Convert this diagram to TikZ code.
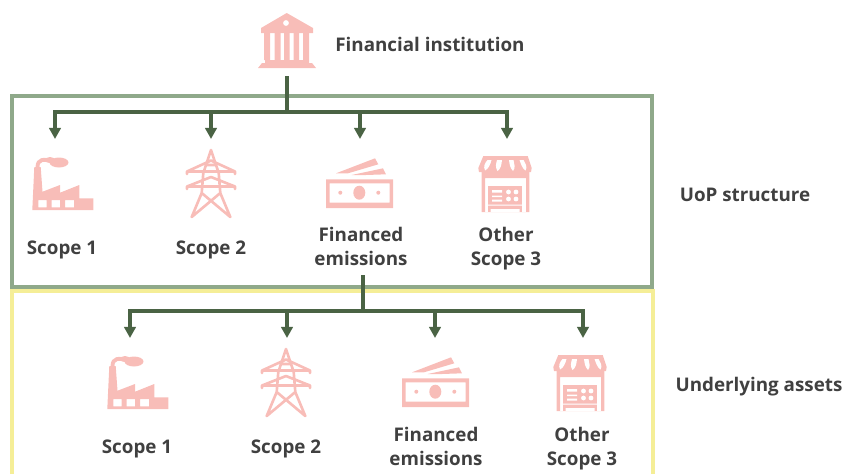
\documentclass[tikz,border=0pt]{standalone}
\usepackage{fontspec}
\setmainfont{Open Sans}
\usetikzlibrary{arrows.meta}
\definecolor{iconpink}{HTML}{F8BDB8}
\definecolor{flowgreen}{HTML}{4A6344}
\definecolor{uopgreen}{HTML}{8FA98A}
\definecolor{assetyellow}{HTML}{F5EE97}
\definecolor{labelgray}{HTML}{404040}
\tikzset{
  flow/.style={draw=flowgreen,line width=1.8pt,-{Triangle[width=6.6pt,length=6.4pt]}},
  trunk/.style={draw=flowgreen,line width=1.8pt},
  lab/.style={text=labelgray,font=\fontsize{10.7pt}{13.6pt}\selectfont\bfseries,align=center,inner sep=0pt},
  bank/.pic={
    \fill[iconpink,even odd rule] (3,15)--(28.7,0)--(55,15)--(55,20)--(3,20)--cycle (28,10) circle (3);
    \fill[iconpink] (6,20) rectangle (12,47) (16.5,20) rectangle (22.5,47) (26,20) rectangle (31.5,47) (35.5,20) rectangle (41,47) (45,20) rectangle (51,47);
    \fill[iconpink] (7,47) rectangle (51,50) (4,50)--(54,50)--(58,55)--(0,55)--cycle;
  },
  factory/.pic={
    \fill[iconpink,even odd rule] (2.3,10)--(8.7,10)--(10.5,34.7)--(28,28)--(28,35.7)--(47.3,28)--(47.3,41.3)--(61.3,41.3)--(61.3,53)--(0.3,53)--cycle
      (6.3,43) rectangle (14.7,50.3) (19.7,43) rectangle (28,50.3) (33,43) rectangle (42,50.3);
    \draw[iconpink,line width=2.2pt] (5.5,10) .. controls (5.5,2) and (12,1.5) .. (20,4.5);
    \fill[iconpink] (27,5.5) ellipse (9.5 and 5);
    \fill[iconpink] (18,3) ellipse (5 and 3);
  },
  tower/.pic={
    \draw[iconpink,line width=1.5pt,line join=round,line cap=round]
      (25,0)--(17.3,23)--(15.7,43)--(5.7,67) (25,0)--(32.7,23)--(34.3,43)--(44.3,67)
      (1,24)--(1,21.5)--(25,10.5)--(49,21.5)--(49,24) (1,21.5)--(49,21.5)
      (1,39)--(1,36.5)--(25,27)--(49,36.5)--(49,39) (1,36.5)--(49,36.5)
      (20,15)--(30,15) (15.7,43)--(44.3,67) (34.3,43)--(5.7,67);
  },
  money/.pic={
    \fill[iconpink,even odd rule] (0,21.3) rectangle (67,50) (3.5,25.3) rectangle (63.5,44.5);
    \fill[iconpink] (33.3,34.7) ellipse (6 and 7) (14.3,34.7) circle (2) (52.3,34.7) circle (2);
    \fill[iconpink] (10,15.3)--(49,0.3)--(52.3,6.3)--(22,15.3)--cycle (25.7,17)--(57,10.3)--(60,16.3)--(40,17)--cycle;
  },
  shop/.pic={
    \fill[iconpink,even odd rule] (3.7,15) rectangle (51.3,56) (7,22) rectangle (48,56);
    \fill[iconpink] (5.3,0)--(49.7,0)--(53.7,12)--(53,16)--(1,16)--(0.3,12)--cycle;
    \fill[white] (9.5,4) .. controls (7,7) and (5,10) .. (7,14.5) .. controls (10.5,13) and (12.5,8) .. (13.5,4)--cycle
      (19,4) .. controls (18,8) and (17,11) .. (19.5,15) .. controls (23,13) and (23.5,8) .. (24,4)--cycle
      (31,4) .. controls (31.5,8) and (32,12) .. (35,15) .. controls (38,12) and (36,8) .. (35.5,4)--cycle
      (41.5,4) .. controls (43,8) and (44,12) .. (47.5,14.5) .. controls (50,11) and (47,7) .. (45.5,4)--cycle;
    \fill[iconpink] (10.3,30) rectangle (43.7,56);
    \fill[white] (14,34) rectangle (24,36.5) (14,39.5) rectangle (24,41) (14,43.5) rectangle (24,45.5)
      (30.5,36) circle (2.4) (38,36) circle (2.4) (30.5,43) circle (2.4) (38,43) circle (2.4)
      (8,48.5) rectangle (46,49.5) (12.5,53) rectangle (41.5,56);
  }
}
\begin{document}
\begin{tikzpicture}[x=0.02cm,y=-0.02cm,line join=miter]
  \useasboundingbox (0,0) rectangle (847,474);
  % frames
  \draw[assetyellow,line width=2pt] (12,474)--(12,291)--(653,291)--(653,474);
  \draw[uopgreen,line width=2pt] (12,96) rectangle (652,287);
  % first level
  \pic at (258,13) {bank};
  \coordinate (rootA) at (287,76);
  \coordinate (forkA) at (287,112);
  \coordinate (a1) at (55,139);
  \coordinate (a2) at (211,139);
  \coordinate (a3) at (360,139);
  \coordinate (a4) at (507,139);
  \draw[trunk] (rootA)--(forkA);
  \draw[flow] (forkA)-|(a1);
  \draw[flow] (forkA)-|(a2);
  \draw[flow] (forkA)-|(a3);
  \draw[flow] (forkA)-|(a4);
  \pic at (32,157) {factory};
  \pic at (186,150) {tower};
  \pic at (326,158) {money};
  \pic at (478,156) {shop};
  % second level
  \coordinate (rootB) at (363,275);
  \coordinate (forkB) at (363,311);
  \coordinate (b1) at (130,338);
  \coordinate (b2) at (287,338);
  \coordinate (b3) at (435,338);
  \coordinate (b4) at (583,338);
  \draw[trunk] (rootB)--(forkB);
  \draw[flow] (forkB)-|(b1);
  \draw[flow] (forkB)-|(b2);
  \draw[flow] (forkB)-|(b3);
  \draw[flow] (forkB)-|(b4);
  \pic at (107,356) {factory};
  \pic at (261,349) {tower};
  \pic at (402,357) {money};
  \pic at (553,355) {shop};
  % labels
  \node[lab] (inst) at (430,44) {Financial institution};
  \node[lab] (uop) at (745,195) {UoP structure};
  \node[lab] (assets) at (759,387) {Underlying assets};
  \node[lab] (a1lab) at (62,250) {Scope 1};
  \node[lab] (a2lab) at (211,250) {Scope 2};
  \node[lab] (a3lab) at (361,246) {Financed\\emissions};
  \node[lab] (a4lab) at (506,249) {Other\\Scope 3};
  \node[lab] (b1lab) at (137,449) {Scope 1};
  \node[lab] (b2lab) at (286,449) {Scope 2};
  \node[lab] (b3lab) at (436,446) {Financed\\emissions};
  \node[lab] (b4lab) at (582,449) {Other\\Scope 3};
\end{tikzpicture}
\end{document}
